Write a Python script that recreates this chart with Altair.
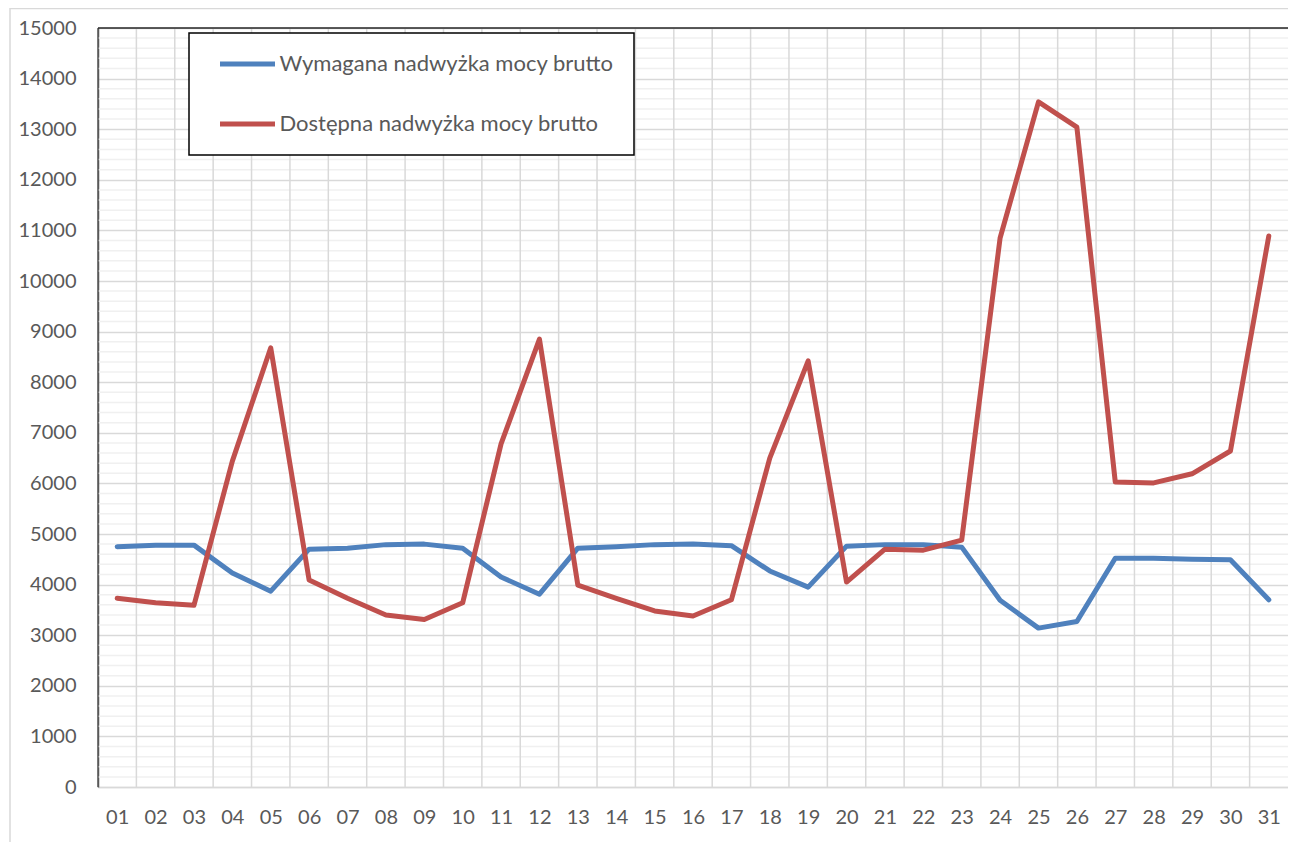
import altair as alt
import pandas as pd

DAYS = ["01", "02", "03", "04", "05", "06", "07", "08", "09", "10",
        "11", "12", "13", "14", "15", "16", "17", "18", "19", "20",
        "21", "22", "23", "24", "25", "26", "27", "28", "29", "30", "31"]

WYMAGANA = [4750, 4780, 4780, 4230, 3870, 4700, 4720, 4790, 4800, 4720,
            4150, 3810, 4720, 4750, 4790, 4800, 4770, 4270, 3950, 4760,
            4790, 4790, 4740, 3690, 3140, 3270, 4520, 4520, 4500, 4490, 3700]

DOSTEPNA = [3730, 3640, 3590, 6440, 8680, 4090, 3730, 3400, 3310, 3640,
            6780, 8850, 3990, 3730, 3480, 3380, 3700, 6500, 8420, 4050,
            4700, 4680, 4880, 10850, 13540, 13040, 6030, 6010, 6190, 6640, 10890]

SERIES = ["Wymagana nadwyżka mocy brutto", "Dostępna nadwyżka mocy brutto"]
COLORS = ["#4F81BD", "#C0504D"]

Y_TICKS = [0, 1000, 2000, 3000, 4000, 5000, 6000, 7000, 8000, 9000,
           10000, 11000, 12000, 13000, 14000, 15000]
MINOR_STEP = 200

FONT = "Lato"
TXT = "#595959"

rows = []
for d, a, b in zip(DAYS, WYMAGANA, DOSTEPNA):
    rows.append({"day": int(d), "series": SERIES[0], "value": a})
    rows.append({"day": int(d), "series": SERIES[1], "value": b})
df = pd.DataFrame(rows)

minor_vals = [v for v in range(MINOR_STEP, Y_TICKS[-1], MINOR_STEP) if v % 1000 != 0]
bounds = [int(d) + 0.5 for d in DAYS[:-1]]
x_lo, x_hi = 0.5, len(DAYS) + 0.5

W, H = 1190, 759

xscale = alt.Scale(domain=[x_lo, x_hi], nice=False, zero=False)
yscale = alt.Scale(domain=[Y_TICKS[0], Y_TICKS[-1]], nice=False)

frame = alt.Chart(pd.DataFrame({"a": [0]})).mark_rect(
    fillOpacity=0, stroke="#d9d9d9", strokeWidth=1.5, clip=False
).encode(
    x=alt.value(-88), x2=alt.value(W + 100),
    y=alt.value(-19.5), y2=alt.value(H + 100),
)

minor = alt.Chart(pd.DataFrame({"v": minor_vals})).mark_rule(
    color="#f0f0f0", strokeWidth=1.5
).encode(y=alt.Y("v:Q", scale=yscale, axis=None))

vgrid = alt.Chart(pd.DataFrame({"b": bounds})).mark_rule(
    color="#d9d9d9", strokeWidth=1.5
).encode(x=alt.X("b:Q", scale=xscale, axis=None))

left = alt.Chart(pd.DataFrame({"b": [x_lo]})).mark_rule(
    color="#595959", strokeWidth=1.5
).encode(x=alt.X("b:Q", scale=xscale, axis=None))

top = alt.Chart(pd.DataFrame({"v": [Y_TICKS[-1]]})).mark_rule(
    color="#262626", strokeWidth=1.5
).encode(y=alt.Y("v:Q", scale=yscale, axis=None))

lines = alt.Chart(df).mark_line(
    strokeWidth=5, strokeCap="round", strokeJoin="round"
).encode(
    x=alt.X("day:Q", scale=xscale, axis=alt.Axis(
        values=[int(d) for d in DAYS],
        labelExpr="datum.value < 10 ? '0' + datum.value : '' + datum.value",
        ticks=False, grid=False, domainColor="#d9d9d9", domainWidth=1.5,
        labelPadding=20, labelFontSize=20, labelFont=FONT, labelColor=TXT,
        labelFlush=False, labelOverlap=False, title=None)),
    y=alt.Y("value:Q", scale=yscale, axis=alt.Axis(
        values=Y_TICKS, format="d", ticks=False, grid=True, gridColor="#d9d9d9",
        gridWidth=1.5, domainColor="#595959", domainWidth=1.5,
        labelPadding=22, labelFontSize=20, labelFont=FONT, labelColor=TXT,
        labelOverlap=False, title=None)),
    color=alt.Color("series:N", sort=SERIES,
                    scale=alt.Scale(domain=SERIES, range=COLORS),
                    legend=alt.Legend(title=None)),
    order=alt.Order("day:Q"),
)

chart = alt.layer(frame, minor, vgrid, left, top, lines).resolve_axis(
    x="independent", y="independent"
).properties(
    width=W, height=H,
    autosize=alt.AutoSizeParams(type="none"),
    padding={"left": 90, "top": 20, "right": 0, "bottom": 55},
).configure_view(stroke=None).configure_legend(
    orient="none", legendX=91, legendY=5,
    padding=20, rowPadding=38,
    symbolType="M-3.6667,0H3.6667", symbolSize=225,
    symbolStrokeWidth=5, symbolOffset=27.5, labelOffset=21,
    labelFontSize=22, labelFont=FONT, labelColor=TXT, labelLimit=600,
    strokeColor="black", strokeWidth=1.5, fillColor="white",
)

chart.save("out.html", embed_options={"renderer": "svg", "actions": False})
